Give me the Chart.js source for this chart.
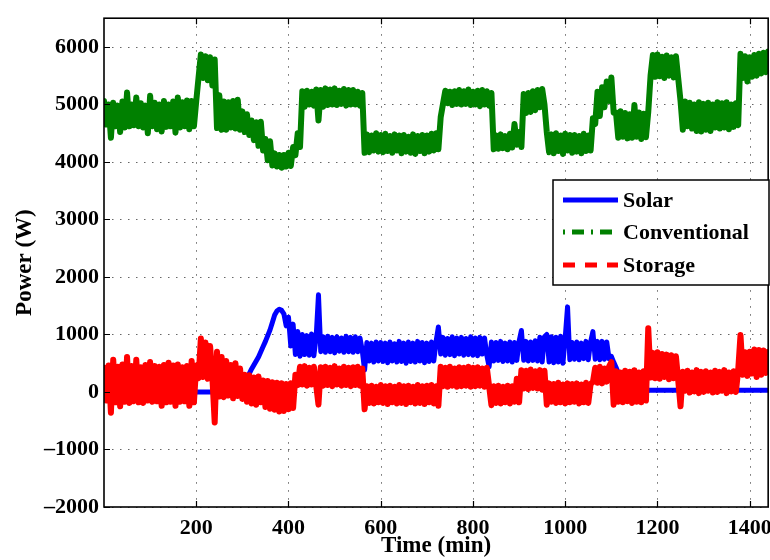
<!DOCTYPE html>
<html>
<head>
<meta charset="utf-8">
<script src="https://cdn.jsdelivr.net/npm/chart.js@4.4.1/dist/chart.umd.min.js"></script>
<style>
html, body { margin: 0; padding: 0; overflow: hidden; background: #fff; }
#wrap { width: 770px; height: 560px; overflow: hidden; }
canvas { display: block; }
</style>
</head>
<body>
<div id="wrap"><canvas id="myChart" width="780" height="560"></canvas></div>
<script>
// time of day in minutes, one row per hour
var minutes = [
    0,5,10,15,20,25,30,35,40,45,50,55,
    60,65,70,75,80,85,90,95,100,105,110,115,
    120,125,130,135,140,145,150,155,160,165,170,175,
    180,185,190,195,200,205,210,215,220,225,230,235,
    240,245,250,255,260,265,270,275,280,285,290,295,
    300,305,310,315,320,325,330,335,340,345,350,355,
    360,365,370,375,380,385,390,395,400,405,410,415,
    420,425,430,435,440,445,450,455,460,465,470,475,
    480,485,490,495,500,505,510,515,520,525,530,535,
    540,545,550,555,560,565,570,575,580,585,590,595,
    600,605,610,615,620,625,630,635,640,645,650,655,
    660,665,670,675,680,685,690,695,700,705,710,715,
    720,725,730,735,740,745,750,755,760,765,770,775,
    780,785,790,795,800,805,810,815,820,825,830,835,
    840,845,850,855,860,865,870,875,880,885,890,895,
    900,905,910,915,920,925,930,935,940,945,950,955,
    960,965,970,975,980,985,990,995,1000,1005,1010,1015,
    1020,1025,1030,1035,1040,1045,1050,1055,1060,1065,1070,1075,
    1080,1085,1090,1095,1100,1105,1110,1115,1120,1125,1130,1135,
    1140,1145,1150,1155,1160,1165,1170,1175,1180,1185,1190,1195,
    1200,1205,1210,1215,1220,1225,1230,1235,1240,1245,1250,1255,
    1260,1265,1270,1275,1280,1285,1290,1295,1300,1305,1310,1315,
    1320,1325,1330,1335,1340,1345,1350,1355,1360,1365,1370,1375,
    1380,1385,1390,1395,1400,1405,1410,1415,1420,1425,1430,1435,
    1440
];

// power in W
var solar = [
    0,0,0,0,0,0,0,0,0,0,0,0,
    0,0,0,0,0,0,0,0,0,0,0,0,
    0,0,0,0,0,0,0,0,0,0,0,0,
    0,0,0,0,0,0,0,0,0,0,0,0,
    0,0,0,0,0,0,0,0,0,0,0,60,
    130,190,240,320,400,470,540,610,700,790,880,980,
    1080,1210,1340,1410,1440,1420,1360,1150,1300,800,1180,650,
    1050,620,1000,650,980,640,1010,630,960,1690,700,960,
    690,970,700,950,680,960,710,940,690,970,700,950,
    690,960,700,940,720,380,860,540,850,520,870,540,
    860,530,850,510,870,540,840,520,880,530,850,500,
    870,530,850,520,880,540,860,510,850,530,870,540,
    880,1130,660,950,640,930,650,960,630,940,660,950,
    640,930,650,960,640,940,630,950,660,940,640,440,
    870,540,860,550,880,530,850,540,870,520,860,550,
    880,1070,550,880,540,870,550,890,540,950,520,960,
    1000,520,960,510,950,520,970,500,950,1480,560,860,
    570,870,560,850,580,880,560,870,1050,570,880,560,
    880,570,870,580,620,520,430,330,200,90,40,30,
    30,30,30,30,30,30,30,30,30,30,30,30,
    30,30,30,30,30,30,30,30,30,30,30,30,
    30,30,30,30,30,30,30,30,30,30,30,30,
    30,30,30,30,30,30,30,30,30,30,30,30,
    30,30,30,30,30,30,30,30,30,30,30,30,
    30
];

var conventional = [
    5060,4650,5000,4420,5030,4620,4980,4520,5050,4600,5210,4620,
    5000,4640,5120,4620,5020,4600,4980,4500,5150,4620,5030,4570,
    5000,4530,5060,4610,5000,4620,5050,4510,5120,4600,5040,4620,
    5070,4570,5060,4620,5060,5470,5870,5460,5840,5420,5820,5330,
    5780,4590,5160,4560,5050,4560,5040,4600,5060,4580,5080,4560,
    4880,4520,4830,4470,4720,4380,4690,4280,4700,4200,4400,4030,
    4360,3940,4150,3920,4120,3900,4120,3920,4160,3930,4260,4120,
    4500,4260,5230,4960,5240,5000,5220,4980,5260,4720,5250,4960,
    5280,4990,5260,5000,5280,4990,5240,5010,5270,4980,5250,5000,
    5250,5000,5220,4980,5200,4160,4480,4170,4460,4200,4500,4180,
    4470,4170,4490,4190,4450,4160,4480,4200,4460,4150,4470,4180,
    4440,4160,4480,4140,4450,4190,4470,4150,4460,4180,4490,4200,
    4500,4220,4780,5010,5240,5020,5220,4990,5230,5010,5250,5000,
    5230,5010,5260,4990,5220,5000,5240,4970,5250,5000,5230,4980,
    5200,4220,4460,4230,4480,4240,4450,4220,4490,4250,4660,4300,
    4520,4260,5180,4850,5200,4870,5230,4900,5250,4950,5270,5000,
    4520,4170,4480,4150,4500,4190,4460,4140,4490,4200,4470,4160,
    4470,4180,4450,4150,4490,4190,4460,4200,4760,4660,5220,4800,
    5300,4950,5400,5060,5470,4860,4860,4420,4880,4440,4850,4410,
    4830,4420,4990,4440,4860,4400,4840,4430,4870,5500,5860,5480,
    5870,5490,5830,5460,5850,5500,5820,5470,5840,5450,5060,4560,
    5050,4620,5030,4580,5000,4540,5040,4530,5010,4560,5030,4540,
    5000,4600,5040,4580,5020,4600,5040,4570,5000,4610,5020,4640,
    5880,5460,5840,5400,5820,5480,5860,5500,5880,5540,5900,5560,
    5920
];

var storage = [
    420,-150,460,-360,560,-180,440,-250,480,-170,610,-190,
    450,-160,560,-180,430,-190,470,-150,520,-170,450,-160,
    440,-240,470,-180,510,-170,460,-240,480,-170,430,-160,
    450,-240,540,-180,460,240,930,260,860,230,800,250,
    -530,700,-80,610,-90,540,-60,470,-110,500,-70,410,
    -120,300,-170,290,-200,250,-220,270,-180,200,-260,190,
    -290,170,-310,160,-340,150,-330,140,-300,150,-280,300,
    120,440,130,450,110,420,130,440,120,-220,430,110,
    440,120,420,100,450,130,410,110,440,120,420,100,
    430,120,440,110,410,-300,100,-190,110,-200,90,-180,
    120,-190,100,-210,110,-180,90,-200,120,-190,100,-210,
    110,-180,90,-200,120,-190,100,-210,110,-180,120,-200,
    100,-240,440,100,420,90,440,110,410,90,430,100,
    420,110,440,90,420,100,430,110,410,90,420,100,
    -230,100,-190,110,-200,90,-180,110,-200,100,-170,230,
    -180,380,60,370,50,390,70,360,60,380,40,370,
    -220,150,-170,140,-190,160,-180,130,-200,150,-180,140,
    -170,150,-200,130,-180,160,-190,140,170,420,160,440,
    150,410,180,440,520,-220,360,-170,340,-180,370,-160,
    350,-190,380,-170,340,-180,360,-150,1110,250,680,240,
    690,230,660,260,650,220,640,240,620,200,-250,350,
    20,370,-10,340,10,380,-20,350,0,360,20,340,
    -10,370,0,350,20,380,-20,340,10,360,0,380,
    990,300,690,280,700,320,740,260,730,300,720,330,
    700
];

var seriesNames = ['Solar', 'Conventional', 'Storage'];
var xTicks = [200, 400, 600, 800, 1000, 1200, 1400];
var yTicks = [-2000, -1000, 0, 1000, 2000, 3000, 4000, 5000, 6000];

var fontName = "'Liberation Serif', 'Times New Roman', serif";

function toPoints(values) {
    var pts = [];
    for (var i = 0; i < minutes.length; i++) {
        pts.push({ x: minutes[i], y: values[i] });
    }
    return pts;
}

function tickText(v) {
    return v < 0 ? '\u2013' + Math.abs(v) : String(v);
}

// dotted grid, box, inward ticks and the boxed legend, MATLAB style
var frame = {
    id: 'frame',
    beforeDatasetsDraw: function(chart) {
        var ctx = chart.ctx, a = chart.chartArea;
        var sx = chart.scales.x, sy = chart.scales.y;
        ctx.save();
        ctx.strokeStyle = '#666';
        ctx.lineWidth = 1;
        ctx.setLineDash([1.5, 6.5]);
        ctx.beginPath();
        for (var i = 0; i < xTicks.length; i++) {
            var px = Math.round(sx.getPixelForValue(xTicks[i])) + 0.5;
            ctx.moveTo(px, a.top);
            ctx.lineTo(px, a.bottom);
        }
        for (var j = 0; j < yTicks.length; j++) {
            var py = Math.round(sy.getPixelForValue(yTicks[j])) + 0.5;
            ctx.moveTo(a.left, py);
            ctx.lineTo(a.right, py);
        }
        ctx.stroke();
        ctx.restore();
    },
    afterDatasetsDraw: function(chart) {
        var ctx = chart.ctx, a = chart.chartArea;
        var sx = chart.scales.x, sy = chart.scales.y;
        ctx.save();
        ctx.strokeStyle = '#000';
        ctx.lineWidth = 1.2;
        ctx.beginPath();
        for (var i = 0; i < xTicks.length; i++) {
            var px = Math.round(sx.getPixelForValue(xTicks[i])) + 0.5;
            ctx.moveTo(px, a.bottom);
            ctx.lineTo(px, a.bottom - 6);
            ctx.moveTo(px, a.top);
            ctx.lineTo(px, a.top + 6);
        }
        for (var j = 0; j < yTicks.length; j++) {
            var py = Math.round(sy.getPixelForValue(yTicks[j])) + 0.5;
            ctx.moveTo(a.left, py);
            ctx.lineTo(a.left + 6, py);
        }
        ctx.stroke();
        ctx.lineWidth = 1.6;
        ctx.strokeRect(a.left, a.top, a.right - a.left, a.bottom - a.top);

        // legend
        var bx = 553, by = 180, bw = 216, bh = 105;
        ctx.fillStyle = '#fff';
        ctx.fillRect(bx, by, bw, bh);
        ctx.lineWidth = 1.5;
        ctx.strokeRect(bx, by, bw, bh);
        var dashes = [[], [2, 7, 12, 7], [12, 10]];
        var rows = [200, 232, 265];
        var sets = chart.data.datasets;
        ctx.font = 'bold 22px ' + fontName;
        ctx.textBaseline = 'middle';
        ctx.textAlign = 'left';
        for (var k = 0; k < sets.length; k++) {
            ctx.strokeStyle = sets[k].borderColor;
            ctx.lineWidth = 5;
            ctx.lineCap = 'butt';
            ctx.setLineDash(dashes[k]);
            ctx.beginPath();
            ctx.moveTo(563, rows[k]);
            ctx.lineTo(618, rows[k]);
            ctx.stroke();
            ctx.setLineDash([]);
            ctx.fillStyle = '#000';
            ctx.fillText(sets[k].label, 623, rows[k] + 1);
        }
        ctx.restore();
    }
};

function wykres() {
    var tickFont = { family: fontName, size: 22, weight: 'bold' };
    var titleFont = { family: fontName, size: 23, weight: 'bold' };
    var Dane = {
        datasets: [{
            label: seriesNames[0],
            data: toPoints(solar),
            borderColor: '#0000ff',
            borderWidth: 5,
            order: 3
        }, {
            label: seriesNames[1],
            data: toPoints(conventional),
            borderColor: '#008000',
            borderWidth: 6,
            order: 2
        }, {
            label: seriesNames[2],
            data: toPoints(storage),
            borderColor: '#ff0000',
            borderWidth: 6,
            order: 1
        }]
    };

    var ctx = document.getElementById('myChart').getContext('2d');
    window.powerChart = new Chart(ctx, {
        type: 'line',
        data: Dane,
        options: {
            responsive: false,
            animation: false,
            layout: { padding: { top: 11, right: 10, left: 0, bottom: 0 } },
            elements: {
                point: { radius: 0 },
                line: { tension: 0, borderJoinStyle: 'round', borderCapStyle: 'round' }
            },
            datasets: { line: { clip: 0 } },
            plugins: {
                legend: { display: false },
                tooltip: { enabled: false }
            },
            scales: {
                x: {
                    type: 'linear',
                    min: 0,
                    max: 1440,
                    afterBuildTicks: function(s) { s.ticks = xTicks.map(function(v) { return { value: v }; }); },
                    afterFit: function(s) { s.height = 53; },
                    grid: { display: false, drawTicks: false },
                    border: { display: false },
                    ticks: { font: tickFont, color: '#000', padding: 8, maxRotation: 0, autoSkip: false, callback: tickText },
                    title: { display: true, text: 'Time (min)', color: '#000', font: titleFont, padding: { top: 0, bottom: 0 } }
                },
                y: {
                    min: -2000,
                    max: 6500,
                    afterBuildTicks: function(s) { s.ticks = yTicks.map(function(v) { return { value: v }; }); },
                    afterFit: function(s) { s.width = 104; },
                    grid: { display: false, drawTicks: false },
                    border: { display: false },
                    ticks: { font: tickFont, color: '#000', padding: 5, autoSkip: false, callback: tickText },
                    title: { display: true, text: 'Power (W)', color: '#000', font: titleFont, padding: { top: 11, bottom: 0 } }
                }
            }
        },
        plugins: [frame]
    });
}

wykres();
</script>
</body>
</html>
